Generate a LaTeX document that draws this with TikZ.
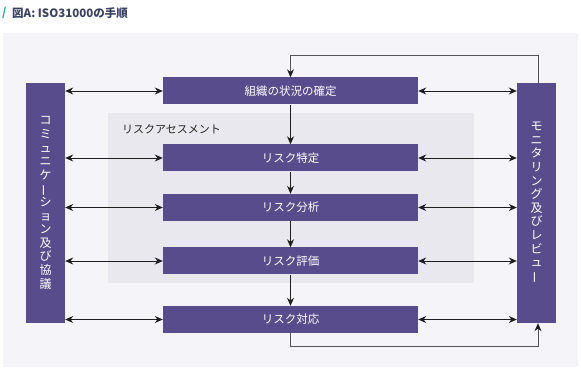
\documentclass[tikz,border=0pt]{standalone}
\usepackage{fontspec}
\usepackage{graphicx}
\setmainfont{Noto Sans CJK JP}
\newfontfamily\cjk{Noto Sans CJK JP}
\usetikzlibrary{arrows.meta}
\definecolor{panelbg}{HTML}{F5F5F9}
\definecolor{assessbg}{HTML}{E9E8EE}
\definecolor{boxfill}{HTML}{584C8C}
\definecolor{titlecol}{HTML}{3B4262}
\definecolor{slashcol}{HTML}{2BA89B}
\definecolor{arrowcol}{HTML}{1E1E1E}
\definecolor{loopcol}{HTML}{555555}
\tikzset{
  stepbox/.style={fill=boxfill, draw=none, minimum width=255pt, minimum height=27pt,
    inner sep=0pt, text=white, font=\cjk\fontsize{11.5}{13}\selectfont},
  sidebar/.style={fill=boxfill, draw=none, minimum width=39pt, minimum height=240pt,
    inner sep=0pt, text=white, align=center, font=\cjk\fontsize{12}{13.6}\selectfont},
  flow/.style={draw=arrowcol, line width=0.9pt, -{Stealth[length=8pt,width=7pt]}},
  both/.style={draw=arrowcol, line width=0.9pt, {Stealth[length=8pt,width=7pt]}-{Stealth[length=8pt,width=7pt]}},
  loopline/.style={draw=loopcol, line width=0.9pt, -{Stealth[length=8pt,width=7pt,color=arrowcol]}},
}
\newcommand{\vbar}{\rotatebox[origin=c]{90}{ー}}
\begin{document}
\begin{tikzpicture}[x=1pt,y=-1pt]
\useasboundingbox (0,0) rectangle (581,371);
% title
\node[anchor=west, inner sep=0pt, text=slashcol, font=\cjk\bfseries\fontsize{11.5}{13}\selectfont] (slash) at (2,13) {/};
\node[anchor=west, inner sep=0pt, text=titlecol, font=\cjk\bfseries\fontsize{11.5}{13}\selectfont] (title) at (12,13) {図A: ISO31000の手順};
% panel
\fill[panelbg] (3,33) rectangle (578,367);
% assessment region
\fill[assessbg] (108,113) rectangle (474,283);
\node[anchor=west, inner sep=0pt, text=black!85, font=\cjk\fontsize{11}{13}\selectfont] (assess) at (122,129) {リスクアセスメント};
% boxes
\node[stepbox] (b1) at (290.5,91) {組織の状況の確定};
\node[stepbox] (b2) at (290.5,158) {リスク特定};
\node[stepbox] (b3) at (290.5,207.5) {リスク分析};
\node[stepbox] (b4) at (290.5,261) {リスク評価};
\node[stepbox] (b5) at (290.5,319.5) {リスク対応};
% side bars
\node[sidebar] (lbar) at (45.5,203) {コ\\ミ\\ュ\\ニ\\ケ\\\vbar\\シ\\ョ\\ン\\及\\び\\協\\議};
\node[sidebar] (rbar) at (536.5,203) {モ\\ニ\\タ\\リ\\ン\\グ\\及\\び\\レ\\ビ\\ュ\\\vbar};
% flow arrows
\draw[flow] (b1) -- (b2);
\draw[flow] (b2) -- (b3);
\draw[flow] (b3) -- (b4);
\draw[flow] (b4) -- (b5);
% loops
\coordinate (rtop) at ([xshift=1.5pt]rbar.north);
\coordinate (rbot) at ([xshift=1.5pt]rbar.south);
\draw[loopline] (rtop) -- ++(0,-27) -| (b1.north);
\draw[loopline] (b5.south) -- ++(0,13) -| (rbot);
% horizontal double arrows
\foreach \b in {b1,b2,b3,b4,b5}{
  \draw[both] (lbar.east |- \b.west) -- (\b.west);
  \draw[both] (\b.east) -- (rbar.west |- \b.east);
}
\end{tikzpicture}
\end{document}
